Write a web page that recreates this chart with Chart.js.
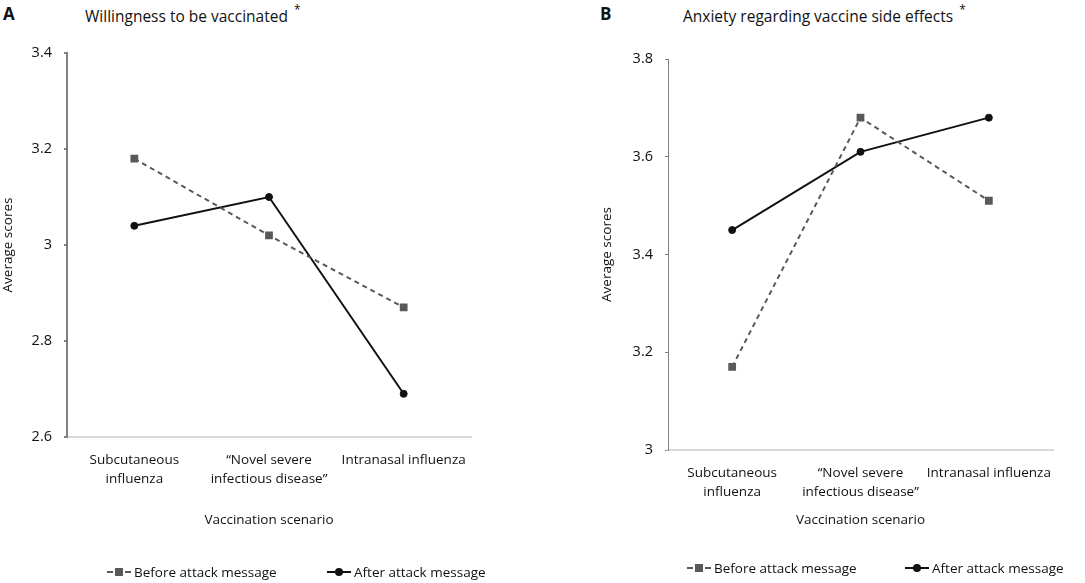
<!DOCTYPE html>
<html>
<head>
<meta charset="utf-8">
<script src="https://cdn.jsdelivr.net/npm/chart.js@4.4.1/dist/chart.umd.min.js"></script>
<style>
  body { margin: 0; background: #fff; width: 1085px; height: 583px; overflow: hidden; position: relative; font-family: "Open Sans", sans-serif; color: #111; }
  .box { position: absolute; top: 0; height: 583px; }
  .letter { position: absolute; top: 2px; font-weight: bold; font-size: 17px; }
  .title { position: absolute; top: 3px; font-size: 15.5px; white-space: nowrap; }
  .title sup { font-size: 12px; margin-left: 6px; position: relative; top: -2px; }
  .legend { position: absolute; font-size: 13.5px; white-space: nowrap; display: flex; align-items: center; }
  .key { display: inline-flex; align-items: center; margin-right: 3px; }
  .dash { display: inline-block; width: 6px; height: 2px; background: #595959; }
  .sq { display: inline-block; width: 8px; height: 8px; background: #595959; margin: 0 2px; }
  .solid { position: relative; display: inline-block; width: 24px; height: 2px; background: #111; }
  .solid i { position: absolute; left: 8px; top: -3px; width: 8px; height: 8px; border-radius: 50%; background: #111; }
</style>
</head>
<body>
<div class="letter" style="left:3px">A</div>
<div class="title" style="left:85px">Willingness to be vaccinated<sup>*</sup></div>
<div class="letter" style="left:600px">B</div>
<div class="title" style="left:683px">Anxiety regarding vaccine side effects<sup>*</sup></div>

<div class="box" style="left:0;width:540px"><canvas id="chartA"></canvas></div>
<div class="box" style="left:540px;width:545px"><canvas id="chartB"></canvas></div>

<div class="legend" style="left:107px;top:563px">
  <span class="key"><span class="dash"></span><span class="sq"></span><span class="dash"></span></span>Before attack message
</div>
<div class="legend" style="left:327px;top:563px">
  <span class="key"><span class="solid"><i></i></span></span>After attack message
</div>
<div class="legend" style="left:687px;top:559px">
  <span class="key"><span class="dash"></span><span class="sq"></span><span class="dash"></span></span>Before attack message
</div>
<div class="legend" style="left:905px;top:559px">
  <span class="key"><span class="solid"><i></i></span></span>After attack message
</div>

<script>
const scenarios = [['Subcutaneous', 'influenza'], ['\u201CNovel severe', 'infectious disease\u201D'], 'Intranasal influenza'];
const seriesNames = ['Before attack message', 'After attack message'];

const willingBefore = [3.18, 3.02, 2.87];
const willingAfter = [3.04, 3.10, 2.69];
const willingRange = [2.6, 3.4];

const anxietyBefore = [3.17, 3.68, 3.51];
const anxietyAfter = [3.45, 3.61, 3.68];
const anxietyRange = [3.0, 3.8];

const yStep = 0.2;
const FONT = '"Open Sans", sans-serif';

function makeChart(id, before, after, range, geo) {
  const canvas = document.getElementById(id);
  canvas.width = geo.w;
  canvas.height = 583;
  return new Chart(canvas.getContext('2d'), {
    type: 'line',
    data: {
      labels: scenarios,
      datasets: [
        {
          label: seriesNames[0],
          data: before,
          borderColor: '#595959',
          backgroundColor: '#595959',
          borderWidth: 2,
          borderDash: [5, 4],
          pointStyle: 'rect',
          pointRadius: 5.5,
          pointBorderWidth: 0,
          tension: 0
        },
        {
          label: seriesNames[1],
          data: after,
          borderColor: '#111',
          backgroundColor: '#111',
          borderWidth: 2,
          pointStyle: 'circle',
          pointRadius: 3.5,
          pointBorderWidth: 1,
          tension: 0
        }
      ]
    },
    options: {
      responsive: false,
      animation: false,
      layout: { padding: geo.pad },
      plugins: { legend: { display: false }, tooltip: { enabled: false } },
      scales: {
        x: {
          offset: true,
          grid: { display: false },
          border: { color: '#d9d9d9', width: 2 },
          ticks: { color: '#111', padding: 6, maxRotation: 0, font: { family: FONT, size: 13.5, lineHeight: 1.4 } },
          title: { display: true, text: 'Vaccination scenario', color: '#111', padding: 0, font: { family: FONT, size: 13.5 } },
          afterFit: s => { s.height = geo.xh; }
        },
        y: {
          min: range[0],
          max: range[1],
          grid: { drawOnChartArea: false, drawTicks: true, tickLength: 3, color: '#808080', lineWidth: geo.yw },
          border: { color: '#808080', width: geo.yw },
          ticks: {
            stepSize: yStep,
            color: '#111',
            padding: 12,
            font: { family: FONT, size: 14.5 },
            callback: v => String(+v.toFixed(1))
          },
          title: { display: true, text: 'Average scores', color: '#111', padding: 0, font: { family: FONT, size: 13.5 } },
          afterFit: s => { s.width = geo.yWidth; }
        }
      }
    }
  });
}

makeChart('chartA', willingBefore, willingAfter, willingRange,
  { w: 540, pad: { top: 53, right: 69, left: 0, bottom: 55 }, xh: 91, yWidth: 67, yw: 2 });
makeChart('chartB', anxietyBefore, anxietyAfter, anxietyRange,
  { w: 545, pad: { top: 59, right: 32, left: 59, bottom: 55 }, xh: 78, yWidth: 69, yw: 1 });
</script>
</body>
</html>
